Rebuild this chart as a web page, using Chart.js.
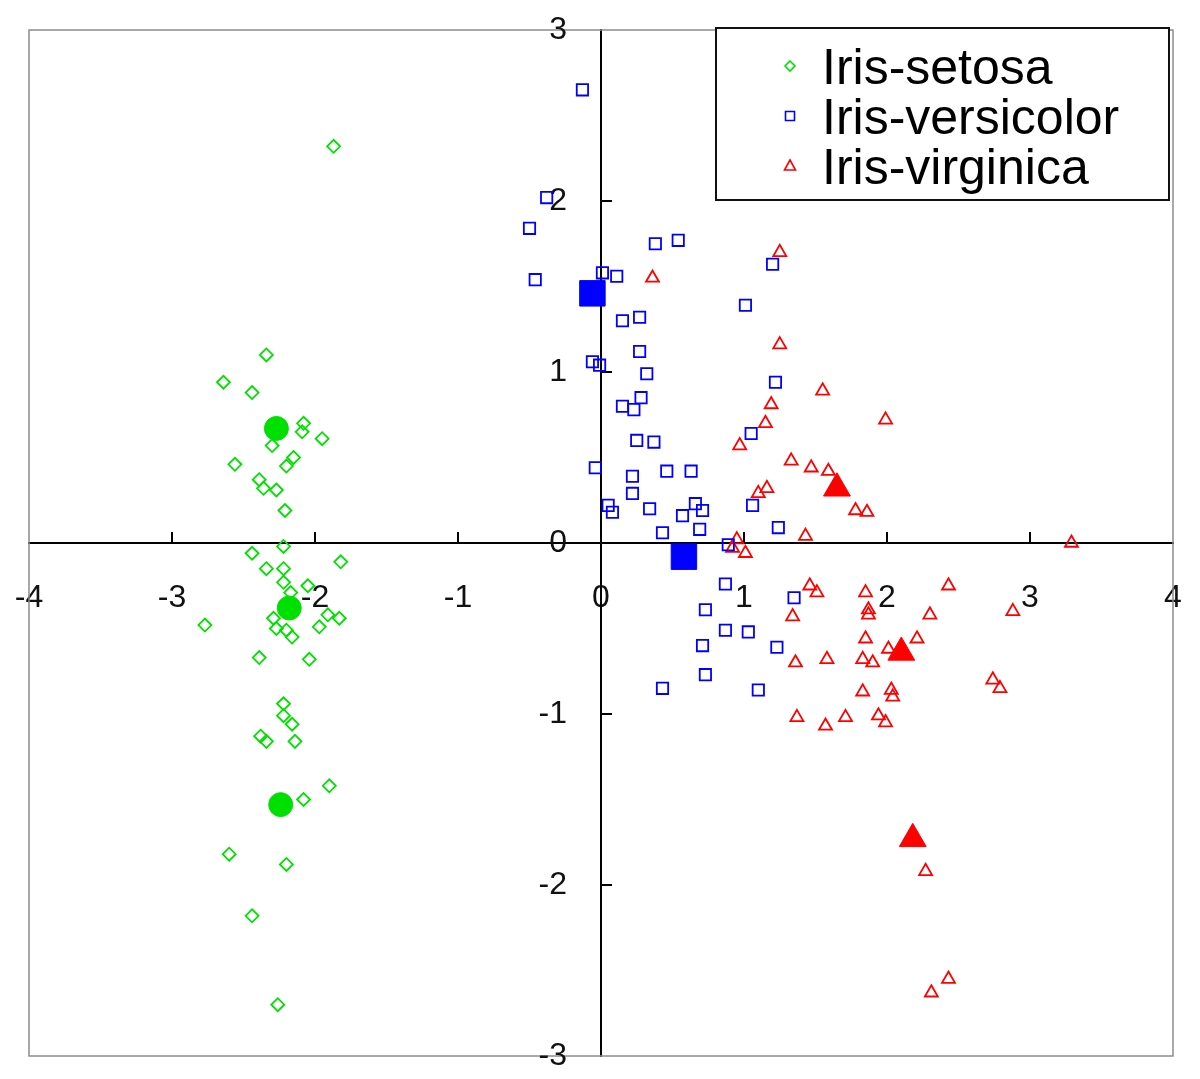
<!DOCTYPE html>
<html>
<head>
<meta charset="utf-8">
<title>Iris scatter</title>
<script src="https://cdn.jsdelivr.net/npm/chart.js"></script>
<style>
  html, body { margin: 0; padding: 0; background: #fff; }
  #wrap { width: 1200px; height: 1079px; }
</style>
</head>
<body>
<div id="wrap"><canvas id="irisChart" width="1200" height="1079"></canvas></div>
<script>
const xTicks = [-4, -3, -2, -1, 0, 1, 2, 3, 4]
const yTicks = [-3, -2, -1, 0, 1, 2, 3]
const species = ['Iris-setosa', 'Iris-versicolor', 'Iris-virginica']
const colors = ['#00e000', '#0000ff', '#ff0000']

// [x, y] pairs
const setosa = [
    [-1.87, 2.32], [-2.34, 1.10], [-2.64, 0.94], [-2.44, 0.88], [-2.08, 0.70], [-2.09, 0.65],
    [-1.95, 0.61], [-2.30, 0.57], [-2.15, 0.50], [-2.20, 0.45], [-2.56, 0.46], [-2.39, 0.37],
    [-2.36, 0.32], [-2.27, 0.31], [-2.21, 0.19], [-2.22, -0.02], [-2.44, -0.06], [-1.82, -0.11],
    [-2.34, -0.15], [-2.22, -0.15], [-2.22, -0.23], [-2.05, -0.25], [-2.17, -0.29], [-2.29, -0.44],
    [-2.27, -0.50], [-2.20, -0.51], [-2.16, -0.55], [-1.91, -0.42], [-1.83, -0.44], [-1.97, -0.49],
    [-2.77, -0.48], [-2.39, -0.67], [-2.04, -0.68], [-2.22, -0.94], [-2.22, -1.01], [-2.16, -1.06],
    [-2.38, -1.13], [-2.34, -1.16], [-2.14, -1.16], [-2.08, -1.50], [-1.90, -1.42], [-2.60, -1.82],
    [-2.20, -1.88], [-2.44, -2.18], [-2.26, -2.70]
]
const versicolor = [
    [-0.13, 2.65], [-0.38, 2.02], [-0.50, 1.84], [-0.46, 1.54], [0.01, 1.58], [0.11, 1.56],
    [0.38, 1.75], [0.54, 1.77], [1.20, 1.63], [1.01, 1.39], [0.15, 1.30], [0.27, 1.32],
    [0.27, 1.12], [-0.06, 1.06], [-0.01, 1.04], [0.32, 0.99], [0.28, 0.85], [0.15, 0.80],
    [0.23, 0.78], [1.22, 0.94], [0.25, 0.60], [0.37, 0.59], [1.05, 0.64], [-0.04, 0.44],
    [0.22, 0.39], [0.46, 0.42], [0.63, 0.42], [0.22, 0.29], [0.05, 0.22], [0.08, 0.18],
    [0.34, 0.20], [0.66, 0.23], [0.71, 0.19], [0.57, 0.16], [1.06, 0.22], [0.43, 0.06],
    [0.69, 0.08], [1.24, 0.09], [0.89, -0.01], [0.87, -0.24], [1.35, -0.32], [0.73, -0.39],
    [0.87, -0.51], [1.03, -0.52], [0.71, -0.60], [1.23, -0.61], [0.73, -0.77], [0.43, -0.85],
    [1.10, -0.86]
]
const virginica = [
    [0.36, 1.55], [1.25, 1.70], [1.25, 1.16], [1.55, 0.89], [1.19, 0.81], [1.15, 0.70],
    [0.97, 0.57], [1.99, 0.72], [1.33, 0.48], [1.47, 0.44], [1.59, 0.42], [1.10, 0.29],
    [1.16, 0.32], [1.78, 0.19], [1.86, 0.18], [1.43, 0.04], [3.29, 0.00], [0.95, 0.02],
    [0.92, -0.03], [1.01, -0.06], [1.46, -0.25], [1.51, -0.29], [1.85, -0.29], [1.87, -0.39],
    [1.87, -0.42], [2.43, -0.25], [2.30, -0.42], [2.88, -0.40], [1.34, -0.43], [1.85, -0.56],
    [2.01, -0.62], [2.21, -0.56], [1.83, -0.68], [1.90, -0.70], [1.36, -0.70], [1.58, -0.68],
    [2.74, -0.80], [2.79, -0.85], [1.83, -0.87], [2.03, -0.86], [2.04, -0.90], [1.37, -1.02],
    [1.57, -1.07], [1.71, -1.02], [1.94, -1.01], [1.99, -1.05], [2.27, -1.92], [2.43, -2.55],
    [2.31, -2.63]
]

// cluster centres (filled markers)
const setosaCenters = [[-2.27, 0.67], [-2.18, -0.38], [-2.24, -1.53]]
const versicolorCenters = [[-0.06, 1.46], [0.58, -0.08]]
const virginicaCenters = [[1.65, 0.32], [2.10, -0.64], [2.18, -1.73]]

const toXY = arr => arr.map(p => ({ x: p[0], y: p[1] }))
const fontFamily = '"Liberation Sans", Arial, sans-serif'
const axisFont = { family: fontFamily, size: 32 }

// axes cross at the origin, so they should not take any room in the layout
function noRoom(s) {
    if (s.isHorizontal()) s.height = 0
    else s.width = 0
    s.paddingLeft = 0
    s.paddingRight = 0
    s.paddingTop = 0
    s.paddingBottom = 0
}

// gray frame, short inward ticks, y labels left of the vertical axis
const framePlugin = {
    id: 'frame',
    beforeDatasetsDraw(chart) {
        const { ctx, chartArea: a, scales } = chart
        ctx.save()
        ctx.strokeStyle = '#8c8c8c'
        ctx.lineWidth = 1.5
        ctx.strokeRect(a.left, a.top, a.right - a.left, a.bottom - a.top)
        const x0 = scales.x.getPixelForValue(0)
        const y0 = scales.y.getPixelForValue(0)
        ctx.strokeStyle = '#000'
        ctx.lineWidth = 2
        ctx.beginPath()
        xTicks.forEach(v => {
            if (v === 0 || v === xTicks[0] || v === xTicks[xTicks.length - 1]) return
            const px = scales.x.getPixelForValue(v)
            ctx.moveTo(px, y0)
            ctx.lineTo(px, y0 - 11)
        })
        yTicks.forEach(v => {
            if (v === 0 || v === yTicks[0] || v === yTicks[yTicks.length - 1]) return
            const py = scales.y.getPixelForValue(v)
            ctx.moveTo(x0, py)
            ctx.lineTo(x0 + 11, py)
        })
        ctx.stroke()

        ctx.fillStyle = '#111'
        ctx.font = '32px ' + fontFamily
        ctx.textAlign = 'right'
        ctx.textBaseline = 'middle'
        scales.y.ticks.forEach(t => {
            ctx.fillText(String(t.value), x0 - 34, scales.y.getPixelForValue(t.value))
        })
        ctx.restore()
    }
}

// boxed legend in the top right corner
const legendPlugin = {
    id: 'boxLegend',
    afterDraw(chart) {
        const { ctx, chartArea: a } = chart
        const right = a.right - 4
        const left = right - 453
        const top = a.top - 2
        ctx.save()
        ctx.fillStyle = '#fff'
        ctx.fillRect(left, top, right - left, 172)
        ctx.strokeStyle = '#111'
        ctx.lineWidth = 2
        ctx.strokeRect(left, top, right - left, 172)
        ctx.font = '50px ' + fontFamily
        ctx.textBaseline = 'alphabetic'
        ctx.fillStyle = '#000'
        ctx.lineWidth = 1.6
        species.forEach((name, i) => {
            const cy = top + 38 + i * 50
            const mx = left + 74
            ctx.strokeStyle = colors[i]
            ctx.beginPath()
            if (i === 0) {
                ctx.moveTo(mx, cy - 5); ctx.lineTo(mx + 5, cy); ctx.lineTo(mx, cy + 5); ctx.lineTo(mx - 5, cy); ctx.closePath()
            } else if (i === 1) {
                ctx.rect(mx - 4.5, cy - 4.5, 9, 9)
            } else {
                ctx.moveTo(mx, cy - 6); ctx.lineTo(mx + 5.5, cy + 4); ctx.lineTo(mx - 5.5, cy + 4); ctx.closePath()
            }
            ctx.stroke()
            ctx.fillText(name, left + 106, cy + 18)
        })
        ctx.restore()
    }
}

const ctx_iris = document.getElementById('irisChart').getContext('2d')
const irisChart = new Chart(ctx_iris, {
    type: 'scatter',
    data: {
        datasets: [
            { label: species[0], data: toXY(setosa), pointStyle: 'rectRot', radius: 6.5,
              borderColor: colors[0], backgroundColor: 'rgba(0,0,0,0)', borderWidth: 1.8 },
            { label: species[1], data: toXY(versicolor), pointStyle: 'rect', radius: 8,
              borderColor: colors[1], backgroundColor: 'rgba(0,0,0,0)', borderWidth: 1.8 },
            { label: species[2], data: toXY(virginica), pointStyle: 'triangle', radius: 7.5,
              borderColor: colors[2], backgroundColor: 'rgba(0,0,0,0)', borderWidth: 1.8 },
            { label: 'setosa centres', data: toXY(setosaCenters), pointStyle: 'circle', radius: 12,
              borderColor: colors[0], backgroundColor: colors[0], borderWidth: 1 },
            { label: 'versicolor centres', data: toXY(versicolorCenters), pointStyle: 'rect', radius: 18,
              borderColor: colors[1], backgroundColor: colors[1], borderWidth: 1 },
            { label: 'virginica centres', data: toXY(virginicaCenters), pointStyle: 'triangle', radius: 15.5,
              borderColor: colors[2], backgroundColor: colors[2], borderWidth: 1 }
        ]
    },
    options: {
        responsive: false,
        animation: false,
        layout: { padding: { left: 29, top: 30, right: 27, bottom: 23 } },
        plugins: { legend: { display: false }, tooltip: { enabled: false } },
        scales: {
            x: {
                type: 'linear', min: -4, max: 4,
                position: { y: 0 },
                afterFit: noRoom,
                afterBuildTicks: s => { s.ticks = xTicks.map(v => ({ value: v })) },
                grid: { display: false, drawTicks: false },
                border: { display: true, color: '#000', width: 2 },
                ticks: { font: axisFont, color: '#111', padding: 36, maxRotation: 0, autoSkip: false }
            },
            y: {
                type: 'linear', min: -3, max: 3,
                position: { x: 0 },
                afterFit: noRoom,
                afterBuildTicks: s => { s.ticks = yTicks.map(v => ({ value: v })) },
                grid: { display: false, drawTicks: false },
                border: { display: true, color: '#000', width: 2 },
                ticks: { display: false }
            }
        }
    },
    plugins: [framePlugin, legendPlugin]
})
</script>
</body>
</html>
